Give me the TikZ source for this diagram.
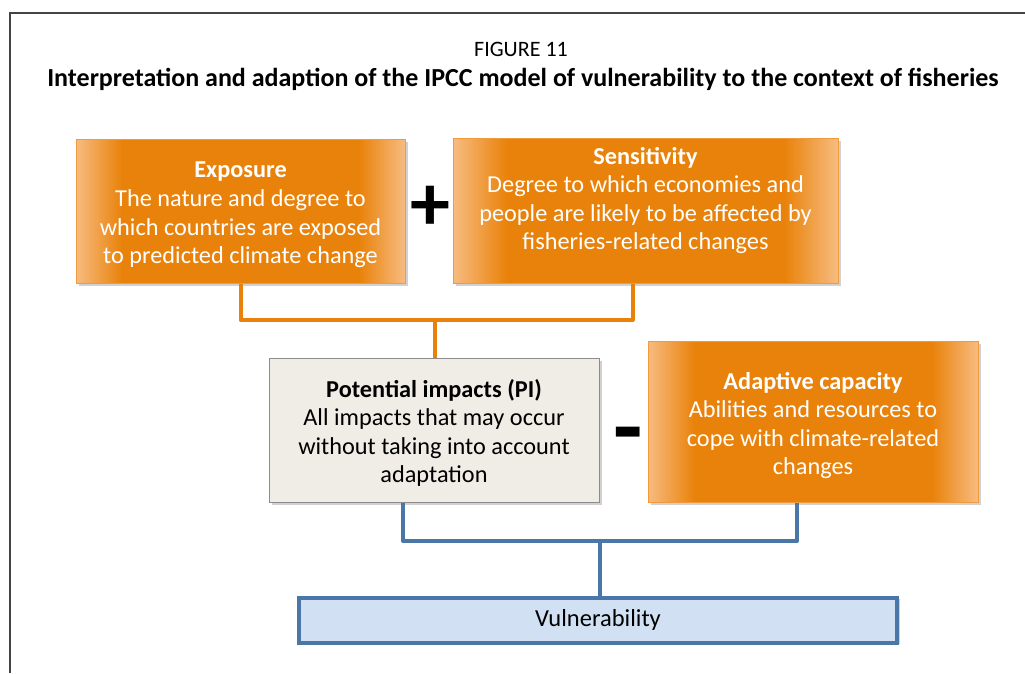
\documentclass[tikz,border=0pt]{standalone}
\usepackage{fontspec}
\setmainfont{Carlito}
\usetikzlibrary{calc}
\definecolor{orng}{HTML}{E9820A}
\definecolor{orngedge}{HTML}{F7BC80}
\definecolor{orngline}{HTML}{F09A3E}
\definecolor{bluel}{HTML}{4A76A8}
\definecolor{bluefill}{HTML}{D1E1F3}
\definecolor{beige}{HTML}{F0EDE6}
\definecolor{frame}{HTML}{444444}
\pgfdeclarehorizontalshading{orangevig}{100bp}{color(0bp)=(orngedge); color(25bp)=(orngedge); color(32bp)=(orng); color(68bp)=(orng); color(75bp)=(orngedge); color(100bp)=(orngedge)}
\tikzset{
  orangebox/.style={draw=orngline, line width=1pt, shading=orangevig, inner sep=0pt},
  shadowbox/.style={fill=black!18, draw=none},
  boxtext/.style={align=center, font=\fontsize{24.3}{28.6}\selectfont, inner sep=0pt},
  orangeline/.style={draw=orng, line width=4pt, line join=round},
  blueline/.style={draw=bluel, line width=4pt, line join=round},
}
\begin{document}
\begin{tikzpicture}[x=1pt,y=-1pt]
\useasboundingbox (0,0) rectangle (1025,673);
\fill[white] (0,0) rectangle (1025,673);
\draw[frame, line width=1.5pt] (10,673) -- (10,13) -- (1025,13);

\node[font=\fontsize{22}{26}\selectfont] (fig) at (521,49) {FIGURE 11};
\node[font=\bfseries\fontsize{26}{30}\selectfont] (title) at (523,79) {Interpretation and adaption of the IPCC model of vulnerability to the context of fisheries};

% shadows
\fill[shadowbox] (79,142) rectangle (408,286);
\fill[shadowbox] (456,141) rectangle (841,286);
\fill[shadowbox] (272,361) rectangle (602,505);
\fill[shadowbox] (651,344) rectangle (981,505);

\coordinate (oj) at (435,320);
\coordinate (bj) at (600,541);

\node[orangebox, minimum width=329pt, minimum height=144pt] (exp) at (240.5,211) {};
\node[orangebox, minimum width=385pt, minimum height=145pt] (sens) at (645.5,210.5) {};
\node[draw=black!45, line width=1pt, fill=beige, minimum width=330pt, minimum height=144pt, inner sep=0pt] (pi) at (434,430) {};
\node[orangebox, minimum width=330pt, minimum height=161pt] (adap) at (813,421.5) {};

\coordinate (sensdrop) at ($(sens.south)+(-13,0)$);
\coordinate (adapdrop) at ($(adap.south)+(-16,0)$);
\coordinate (pidrop) at ($(pi.south)+(-31,0)$);

\draw[orangeline] (exp.south) |- (oj) -| (sensdrop);
\draw[orangeline] (oj) -- (oj |- pi.north);

\node[boxtext, text=white] (exptext) at ($(exp.center)+(0,4)$) {\textbf{Exposure}\\The nature and degree to\\which countries are exposed\\to predicted climate change};
\node[boxtext, text=white] (senstext) at ($(sens.center)+(0,-10)$) {\textbf{Sensitivity}\\Degree to which economies and\\people are likely to be affected by\\fisheries-related changes};
\node[boxtext, text=black] (pitext) at ($(pi.center)+(0,3)$) {\textbf{Potential impacts (PI)}\\All impacts that may occur\\without taking into account\\adaptation};
\node[boxtext, text=white] (adaptext) at ($(adap.center)+(0,4)$) {\textbf{Adaptive capacity}\\Abilities and resources to\\cope with climate-related\\changes};

\node[font=\bfseries\fontsize{80}{80}\selectfont, inner sep=0pt] (plus) at (430,208) {+};
\node[font=\bfseries\fontsize{96}{96}\selectfont, inner sep=0pt] (minus) at (628,443) {-};

\fill[shadowbox] (302,599) rectangle (900,644);
\node[draw=bluel, line width=4pt, fill=bluefill, minimum width=598pt, minimum height=45pt, inner sep=0pt,
  font=\fontsize{24.5}{28}\selectfont] (vul) at (598,620) {Vulnerability};

\draw[blueline] (pidrop) |- (bj) -| (adapdrop);
\draw[blueline] (bj) -- (bj |- vul.north);
\end{tikzpicture}
\end{document}
